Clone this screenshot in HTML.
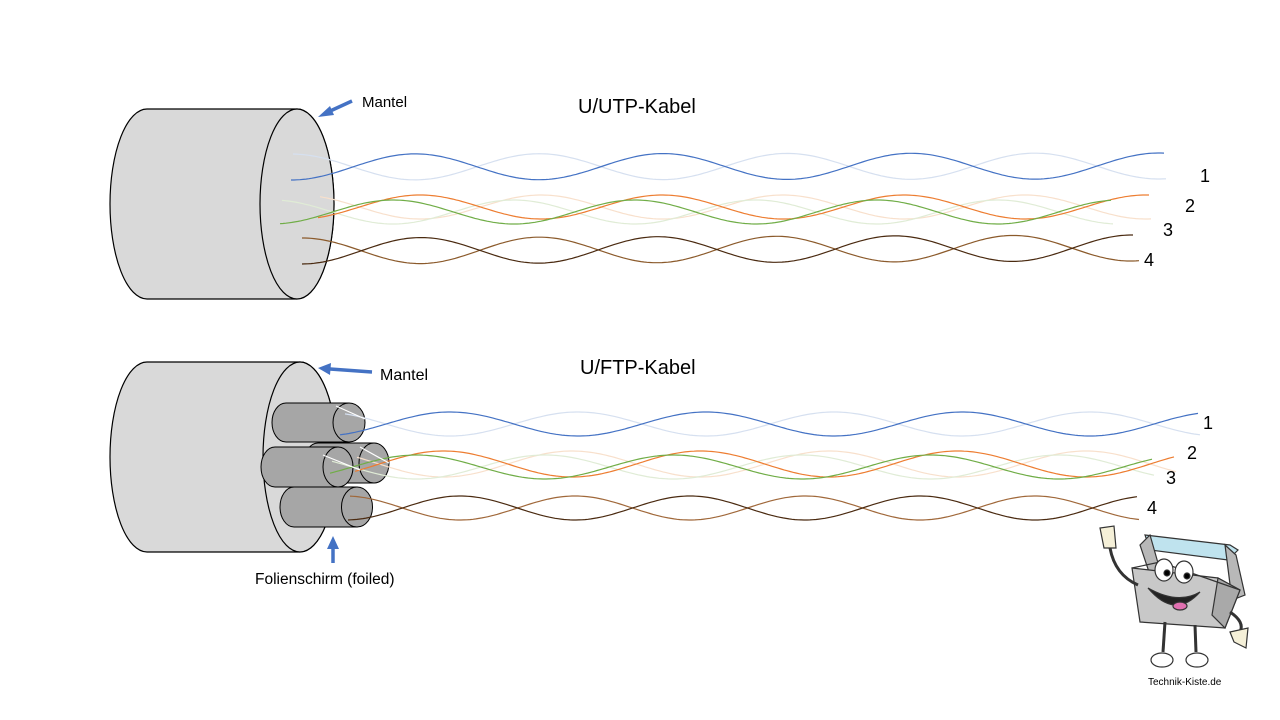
<!DOCTYPE html>
<html><head><meta charset="utf-8"><style>
html,body{margin:0;padding:0;background:#fff;}
svg{display:block;}
text{font-family:"Liberation Sans",sans-serif;fill:#000;}
</style></head><body>
<svg id="s" width="1280" height="720" viewBox="0 0 1280 720" xmlns="http://www.w3.org/2000/svg">
<rect width="1280" height="720" fill="#fff"/>
<path d="M147,109 L297,109 A37,95 0 0 1 297,299 L147,299 A37,95 0 0 1 147,109 Z" fill="#d9d9d9" stroke="#000" stroke-width="1.2"/>
<ellipse cx="297" cy="204" rx="37" ry="95" fill="#d9d9d9" stroke="#000" stroke-width="1.2"/>
<g id="wtop" fill="none" stroke-width="1.2"></g>
<path d="M147,362 L300,362 A37,95 0 0 1 300,552 L147,552 A37,95 0 0 1 147,362 Z" fill="#d9d9d9" stroke="#000" stroke-width="1.2"/>
<ellipse cx="300" cy="457" rx="37" ry="95" fill="#d9d9d9" stroke="#000" stroke-width="1.2"/>
<g fill="#a6a6a6" stroke="#000" stroke-width="1">
 <path d="M286,403 L349,403 L349,442 L286,442 A14,19.5 0 0 1 286,403Z"/>
 <ellipse cx="349" cy="422.5" rx="16" ry="19.5"/>
 <path d="M318,443 L374,443 L374,483 L318,483 A14,20 0 0 1 318,443Z"/>
 <ellipse cx="374" cy="463" rx="15" ry="20"/>
 <path d="M275,447 L338,447 L338,487 L275,487 A14,20 0 0 1 275,447Z"/>
 <ellipse cx="338" cy="467" rx="15" ry="20"/>
 <path d="M294,487 L357,487 L357,527 L294,527 A14,20 0 0 1 294,487Z"/>
 <ellipse cx="357" cy="507" rx="15.5" ry="20"/>
</g>
<g id="wbot" fill="none" stroke-width="1.2"></g>
<g stroke="#4472C4" stroke-width="3.5" fill="#4472C4">
 <line x1="352" y1="101" x2="328" y2="112"/>
 <polygon points="318,117 330,106 334,115" stroke="none"/>
 <line x1="372" y1="372" x2="330" y2="369"/>
 <polygon points="318,368 331,363 330,375" stroke="none"/>
 <line x1="333" y1="563" x2="333" y2="548"/>
 <polygon points="333,536 327,549 339,549" stroke="none"/>
</g>
<text x="362" y="107" font-size="15">Mantel</text>
<text x="380" y="380" font-size="16">Mantel</text>
<text x="255" y="584" font-size="15.5">Folienschirm (foiled)</text>
<text x="578" y="113" font-size="20">U/UTP-Kabel</text>
<text x="580" y="374" font-size="20">U/FTP-Kabel</text>
<g font-size="18">
<text x="1200" y="182">1</text><text x="1185" y="212">2</text><text x="1163" y="236">3</text><text x="1144" y="266">4</text>
<text x="1203" y="429">1</text><text x="1187" y="459">2</text><text x="1166" y="484">3</text><text x="1147" y="514">4</text>
</g>
<g stroke="#333" stroke-width="1.2">
 <path d="M1145,535 L1230,545 L1238,550 L1228,560 L1150,550Z" fill="#bfe3ee"/>
 <path d="M1140,545 L1150,535 L1160,570 L1150,575Z" fill="#b8b8b8"/>
 <path d="M1225,545 L1236,555 L1245,595 L1232,600Z" fill="#b8b8b8"/>
 <path d="M1132,568 L1218,578 L1240,590 L1225,628 L1140,622 Z" fill="#c8c8c8"/>
 <path d="M1218,578 L1240,590 L1225,628 L1212,615Z" fill="#a9a9a9"/>
 <path d="M1132,568 L1160,562 L1240,590" fill="none"/>
 <ellipse cx="1164" cy="570" rx="9" ry="11" fill="#fff"/>
 <ellipse cx="1184" cy="572" rx="9" ry="11" fill="#fff"/>
 <circle cx="1167" cy="573" r="3" fill="#000"/>
 <circle cx="1187" cy="576" r="3" fill="#000"/>
 <path d="M1148,588 Q1175,620 1200,592 Q1178,605 1148,588Z" fill="#222"/>
 <ellipse cx="1180" cy="606" rx="7" ry="4" fill="#e070b0"/>
 <path d="M1138,585 Q1115,575 1110,548" fill="none" stroke-width="3"/>
 <path d="M1100,528 L1104,548 L1116,548 L1114,526Z" fill="#f5f0d8"/>
 <path d="M1230,612 Q1245,622 1240,632" fill="none" stroke-width="3"/>
 <path d="M1230,632 L1248,628 L1246,648 L1234,642Z" fill="#f5f0d8"/>
 <line x1="1165" y1="622" x2="1163" y2="652" stroke-width="3"/>
 <line x1="1195" y1="625" x2="1196" y2="652" stroke-width="3"/>
 <ellipse cx="1162" cy="660" rx="11" ry="7" fill="#fff"/>
 <ellipse cx="1197" cy="660" rx="11" ry="7" fill="#fff"/>
</g>
<text x="1148" y="685" font-size="10">Technik-Kiste.de</text>
</svg>
<script>
function wave(g,xs,xe,c0,c1,A,P,xp,sign,col){
  var d="";
  for(var x=xs;x<=xe;x+=3){
    var t=(x-xs)/(xe-xs), c=c0+(c1-c0)*t;
    var y=c+sign*A*Math.cos(2*Math.PI*(x-xp)/P);
    d+=(d?"L":"M")+x.toFixed(1)+","+y.toFixed(1);
  }
  var p=document.createElementNS("http://www.w3.org/2000/svg","path");
  p.setAttribute("d",d);p.setAttribute("stroke",col);
  document.getElementById(g).appendChild(p);
}
var LB="#d6e0f0",LO="#f8e0cc",LG="#e0ecd6";
wave("wtop",293,1168,167,166,13,248,291,-1,LB);
wave("wtop",320,1152,207,207,12,242,299,-1,LO);
wave("wtop",282,1113,212,212,12,242,272,-1,LG);
wave("wtop",291,1165,167,166,13,248,291,1,"#4472C4");
wave("wtop",318,1150,207,207,12,242,299,1,"#ED7D31");
wave("wtop",280,1112,212,212,12,242,272,1,"#70AD47");
wave("wtop",302,1140,251,248,13,237,302,-1,"#8b5a2b");
wave("wtop",302,1133,251,248,13,237,302,1,"#4a2a10");
wave("wbot",345,1200,424,424,12,256,322,-1,LB);
wave("wbot",357,1177,464,464,13,257,315,-1,LO);
wave("wbot",332,1154,467,467,12,257,288,-1,LG);
wave("wbot",340,1198,424,424,12,256,322,1,"#4472C4");
wave("wbot",355,1175,464,464,13,257,315,1,"#ED7D31");
wave("wbot",330,1152,467,467,12,257,288,1,"#70AD47");
wave("wbot",350,1140,508,508,12,230,345,-1,"#a0683a");
wave("wbot",348,1138,508,508,12,230,345,1,"#4a2a10");
var g=document.getElementById("wbot");
[["M336,406 L365,419","#fff"],["M323,455 L360,470","#fff"],["M360,447 L389,463","#fff"]].forEach(function(a){
 var p=document.createElementNS("http://www.w3.org/2000/svg","path");p.setAttribute("d",a[0]);p.setAttribute("stroke",a[1]);g.appendChild(p);});
</script>
</body></html>
